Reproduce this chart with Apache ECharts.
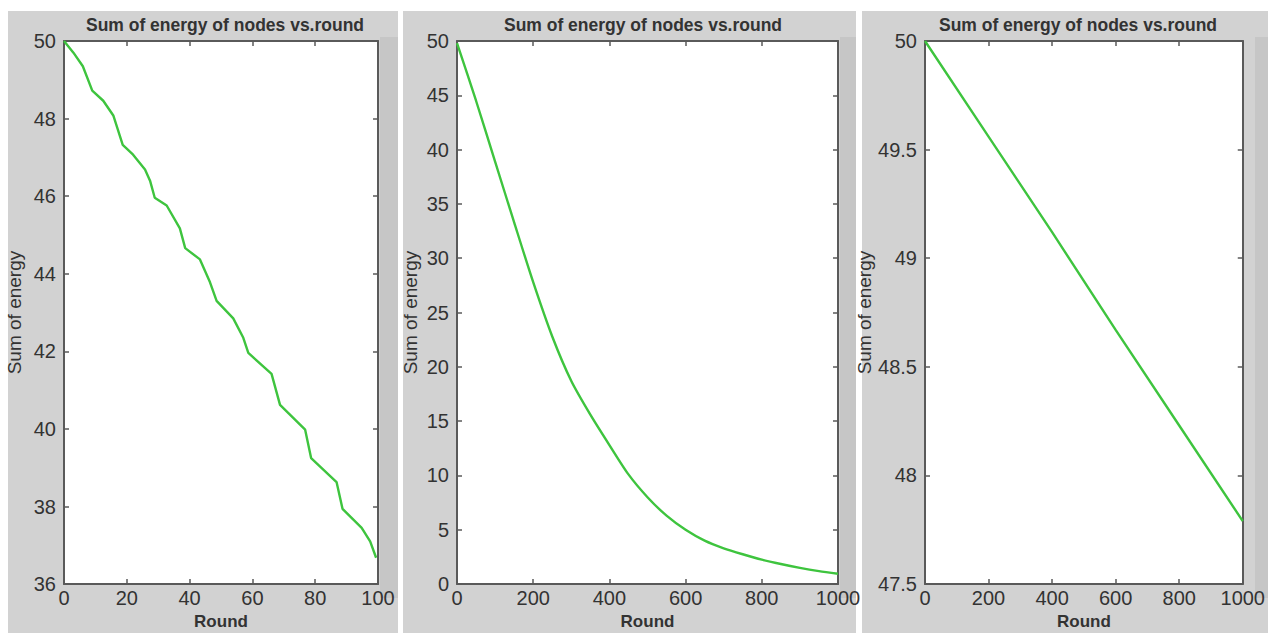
<!DOCTYPE html>
<html>
<head>
<meta charset="utf-8">
<script src="https://cdn.jsdelivr.net/npm/echarts@6/dist/echarts.min.js"></script>
<style>
  html, body { margin: 0; padding: 0; background: #fff; }
  #main { width: 1268px; height: 635px; }
</style>
</head>
<body>
<div id="main"></div>
<script>
// values: [round, sum of energy]
var energyA = [
  [0, 50.0], [3, 49.7], [6, 49.35], [9, 48.72], [12.5, 48.46], [15.7, 48.08], [18.7, 47.32],
  [22, 47.07], [25.8, 46.69], [27.4, 46.4], [28.9, 45.96], [32.7, 45.76], [36.9, 45.17],
  [38.6, 44.66], [43.3, 44.37], [46.5, 43.78], [48.6, 43.3], [53.9, 42.85], [57.1, 42.35],
  [58.7, 41.96], [66.1, 41.42], [68.8, 40.62], [76.8, 39.98], [78.7, 39.25], [86.8, 38.63],
  [88.7, 37.94], [94.8, 37.45], [97.5, 37.1], [99.4, 36.68]
];
var energyB = [
  [0, 49.8], [50, 44.5], [100, 38.9], [150, 33.3], [200, 27.8], [250, 22.8], [300, 18.7],
  [350, 15.6], [400, 12.8], [450, 10.1], [500, 8.0], [550, 6.3], [600, 5.0], [650, 4.0],
  [700, 3.3], [750, 2.75], [800, 2.25], [850, 1.85], [900, 1.5], [950, 1.2], [1000, 0.95]
];
var energyC = [
  [0, 50.0], [200, 49.56], [400, 49.12], [600, 48.67], [800, 48.23], [1000, 47.79]
];

var titleText = 'Sum of energy of nodes vs.round';
var xName = 'Round';
var yName = 'Sum of energy';

var font = '"Liberation Sans", Arial, sans-serif';
var axisColor = '#5a5a5a';
var textColor = '#333';
var green = '#3ec43e';

// panel boxes (gray) and plot areas
var panels = [
  { bg: [8, 11, 390, 622], strip: [380, 37, 18, 561], grid: [64, 41, 314, 553], titleX: 225,
    x: [0, 100, 20], y: [36, 50, 2], gap: 40, smooth: false, data: energyA },
  { bg: [403, 11, 453, 622], strip: [840, 37, 16, 561], grid: [457, 41, 381, 553], titleX: 643,
    x: [0, 1000, 200], y: [0, 50, 5], gap: 37, smooth: 0.25, data: energyB },
  { bg: [862, 11, 406, 622], strip: [1255, 37, 13, 561], grid: [925, 41, 328, 553], titleX: 1078,
    x: [0, 1000, 200], y: [47.5, 50, 0.5], gap: 38, smooth: false, data: energyC }
];

function plain(v) { return String(v); }

var grids = [], xAxes = [], yAxes = [], series = [], graphics = [];

panels.forEach(function (p, i) {
  graphics.push({ type: 'rect', z: -10, shape: { x: p.bg[0], y: p.bg[1], width: p.bg[2], height: p.bg[3] },
    style: { fill: '#d2d2d2' } });
  graphics.push({ type: 'rect', z: -9, shape: { x: p.strip[0], y: p.strip[1], width: p.strip[2], height: p.strip[3] },
    style: { fill: '#c6c6c6' } });
  graphics.push({ type: 'text', z: 5, x: p.titleX, y: 25,
    style: { text: titleText, fill: textColor, font: 'bold 17.5px ' + font, textAlign: 'center', textVerticalAlign: 'middle' } });

  grids.push({ left: p.grid[0], top: p.grid[1], width: p.grid[2], height: p.grid[3],
    show: true, backgroundColor: '#fff', borderWidth: 0 });

  var tick = { show: true, inside: true, length: 5, lineStyle: { color: axisColor, width: 1.5 } };
  var line = { show: true, onZero: false, lineStyle: { color: axisColor, width: 2 } };

  xAxes.push({
    type: 'value', gridIndex: i, position: 'bottom', min: p.x[0], max: p.x[1], interval: p.x[2],
    axisLine: line, axisTick: tick, splitLine: { show: false },
    axisLabel: { color: textColor, fontSize: 20, fontFamily: font, margin: 4, formatter: plain },
    name: xName, nameLocation: 'middle', nameGap: 22,
    nameTextStyle: { color: textColor, fontSize: 17, fontWeight: 'bold', fontFamily: font }
  });
  xAxes.push({
    type: 'value', gridIndex: i, position: 'top', min: p.x[0], max: p.x[1], interval: p.x[2],
    axisLine: line, axisTick: tick, splitLine: { show: false }, axisLabel: { show: false }
  });
  yAxes.push({
    type: 'value', gridIndex: i, position: 'left', min: p.y[0], max: p.y[1], interval: p.y[2],
    axisLine: line, axisTick: tick, splitLine: { show: false },
    axisLabel: { color: textColor, fontSize: 20, fontFamily: font, margin: 8, formatter: plain },
    name: yName, nameLocation: 'middle', nameGap: p.gap,
    nameTextStyle: { color: textColor, fontSize: 19, fontFamily: font }
  });
  yAxes.push({
    type: 'value', gridIndex: i, position: 'right', min: p.y[0], max: p.y[1], interval: p.y[2],
    axisLine: line, axisTick: tick, splitLine: { show: false }, axisLabel: { show: false }
  });

  series.push({
    type: 'line', xAxisIndex: i * 2, yAxisIndex: i * 2, data: p.data,
    showSymbol: false, smooth: p.smooth,
    lineStyle: { color: green, width: 2.4 }, animation: false
  });
});

var chart = echarts.init(document.getElementById('main'), null, { renderer: 'svg' });
chart.setOption({
  animation: false,
  backgroundColor: '#fff',
  graphic: { elements: graphics },
  grid: grids,
  xAxis: xAxes,
  yAxis: yAxes,
  series: series
});
</script>
</body>
</html>
